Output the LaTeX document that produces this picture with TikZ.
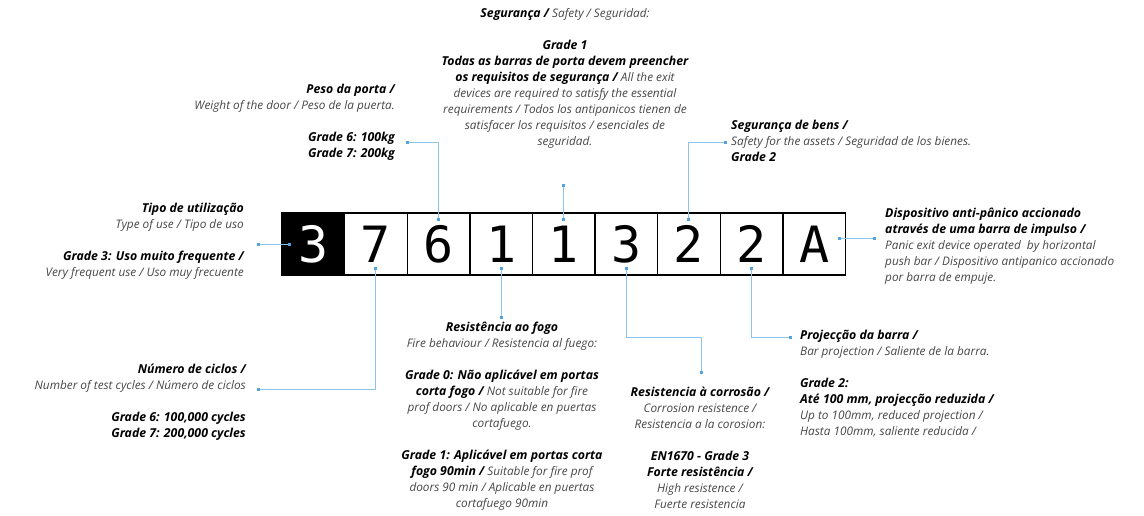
\documentclass[tikz,border=0pt]{standalone}
\usepackage{fontspec}
\setmainfont{Open Sans}
\newfontfamily\digitfont{DejaVu Sans Mono}
\usetikzlibrary{arrows.meta,calc}
\definecolor{leadblue}{RGB}{140,196,236}
\definecolor{dotblue}{RGB}{84,164,226}
\definecolor{textgrey}{RGB}{70,70,70}
\newcommand{\hd}[1]{{\fontsize{12.3}{16}\selectfont\bfseries\color{black}#1}}

\begin{document}
\begin{tikzpicture}[x=1pt, y=-1pt,
  lead/.style={leadblue, line width=1pt,
    {Square[length=3pt,width=3pt,color=dotblue]}-{Square[length=3pt,width=3pt,color=dotblue]}},
  digitbox/.style={draw=black, line width=1.4pt, fill=white, minimum width=62.6pt,
    minimum height=62pt, inner sep=0pt, font=\digitfont\fontsize{50}{50}\selectfont},
  txt/.style={font=\itshape\fontsize{11.8}{16}\selectfont, text=textgrey, inner sep=0pt}]
  \useasboundingbox (0,0) rectangle (1144,516);
  % code boxes
  \node[digitbox, fill=black, text=white] (b1) at (313.3,244) {3};
  \foreach \d [count=\i from 2] in {7,6,1,1,3,2,2,A}
    \node[digitbox] (b\i) at ({282+62.6*(\i-0.5)},244) {\d};
  % texts above
  \node[txt, anchor=north, align=center] (safety) at (565,8) {\hd{Segurança /} Safety / Seguridad:\\[16pt]
    \hd{Grade 1}\\
    \hd{Todas as barras de porta devem preencher}\\
    \hd{os requisitos de segurança /} All the exit\\
    devices are required to satisfy the essential\\
    requirements / Todos los antipanicos tienen de\\
    satisfacer los requisitos / esenciales de\\
    seguridad.};
  \node[txt, anchor=north east, align=right] (peso) at (395,84) {\hd{Peso da porta /}\\
    Weight of the door / Peso de la puerta.\\[16pt]
    \hd{Grade 6: 100kg}\\
    \hd{Grade 7: 200kg}};
  \node[txt, anchor=north west, align=left] (bens) at (731,120) {\hd{Segurança de bens /}\\
    Safety for the assets / Seguridad de los bienes.\\
    \hd{Grade 2}};
  % texts left and right
  \node[txt, anchor=north east, align=right] (tipo) at (244,203) {\hd{Tipo de utilização}\\
    Type of use / Tipo de uso\\[16pt]
    \hd{Grade 3: Uso muito frequente /}\\
    Very frequent use / Uso muy frecuente};
  \node[txt, anchor=north west, align=left] (disp) at (885,208) {\hd{Dispositivo anti-pânico accionado}\\
    \hd{através de uma barra de impulso /}\\
    Panic exit device operated~ by horizontal\\
    push bar / Dispositivo antipanico accionado\\
    por barra de empuje.};
  % texts below
  \node[txt, anchor=north east, align=right] (ciclos) at (246,364) {\hd{Número de ciclos /}\\
    Number of test cycles / Número de ciclos\\[16pt]
    \hd{Grade 6: 100,000 cycles}\\
    \hd{Grade 7: 200,000 cycles}};
  \node[txt, anchor=north, align=center] (fogo) at (502,322) {\hd{Resistência ao fogo}\\
    Fire behaviour / Resistencia al fuego:\\[16pt]
    \hd{Grade 0: Não aplicável em portas}\\
    \hd{corta fogo /} Not suitable for fire\\
    prof doors / No aplicable en puertas\\
    cortafuego.\\[16pt]
    \hd{Grade 1: Aplicável em portas corta}\\
    \hd{fogo 90min /} Suitable for fire prof\\
    doors 90 min / Aplicable en puertas\\
    cortafuego 90min};
  \node[txt, anchor=north, align=center] (corr) at (700,387) {\hd{Resistencia à corrosão /}\\
    Corrosion resistence /\\
    Resistencia a la corosion:\\[16pt]
    \hd{EN1670 - Grade 3}\\
    \hd{Forte resistência /}\\
    High resistence /\\
    Fuerte resistencia};
  \node[txt, anchor=north west, align=left] (proj) at (800,330) {\hd{Projecção da barra /}\\
    Bar projection / Saliente de la barra.\\[16pt]
    \hd{Grade 2:}\\
    \hd{Até 100 mm, projecção reduzida /}\\
    Up to 100mm, reduced projection /\\
    Hasta 100mm, saliente reducida /};
  % leader ends
  \coordinate (tipo-end) at (257,244);
  \coordinate (ciclos-end) at (257,389);
  \coordinate (peso-end) at (406,143);
  \coordinate (fogo-end) at ($(b4.south)+(0,43)$);
  \coordinate (safety-end) at ($(b5.north)+(0,-28)$);
  \coordinate (corr-end) at (701,374);
  \coordinate (bens-end) at (727,143);
  \coordinate (proj-end) at (792,337);
  \coordinate (disp-end) at (876,238);
  % leaders
  \draw[lead] (tipo-end) -- ([xshift=10pt]b1.west);
  \draw[lead] ([yshift=9pt]b2.south) |- (ciclos-end);
  \draw[lead] ([yshift=-9pt]b3.north) |- (peso-end);
  \draw[lead] ([yshift=9pt]b4.south) -- (fogo-end);
  \draw[lead] (safety-end) -- ([yshift=-9pt]b5.north);
  \draw[lead] ([yshift=9pt]b6.south) -- ++(0,71) -| (corr-end);
  \draw[lead] ([yshift=-9pt]b7.north) |- (bens-end);
  \draw[lead] ([yshift=9pt]b8.south) |- (proj-end);
  \draw[lead] ([shift={(-8,-6)}]b9.east) -- (disp-end);
\end{tikzpicture}
\end{document}
